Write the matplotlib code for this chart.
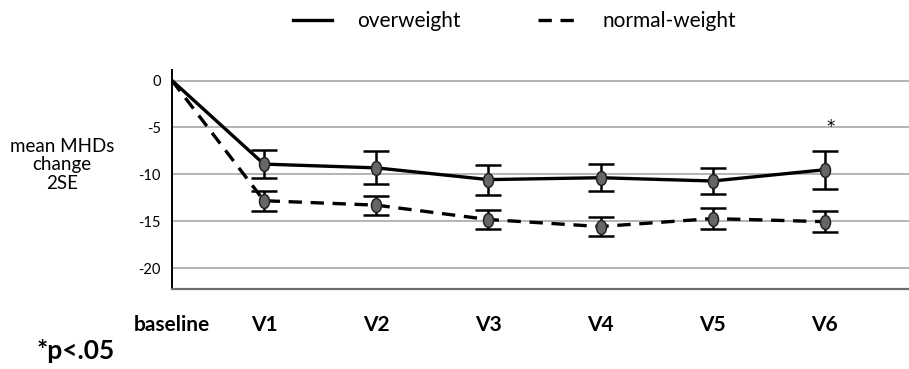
import numpy as np
import matplotlib
matplotlib.use("Agg")
import matplotlib.pyplot as plt
from matplotlib.path import Path
from matplotlib.transforms import Affine2D

plt.rcParams['font.family'] = ['Lato', 'DejaVu Sans']

visits = ['baseline', 'V1', 'V2', 'V3', 'V4', 'V5', 'V6']
over_mean = [0, -8.9, -9.3, -10.55, -10.35, -10.7, -9.5]
over_se2 = [0, 1.47, 1.77, 1.6, 1.45, 1.43, 2.0]
normal_mean = [0, -12.8, -13.27, -14.8, -15.55, -14.7, -15.03]
normal_se2 = [0, 1.05, 1.0, 1.05, 1.03, 1.1, 1.12]
sig_visit = 'V6'

# baseline sits closer to V1 than the other visits are to each other
xpos = np.array([0.18, 1, 2, 3, 4, 5, 6])

fig = plt.figure(figsize=(9.09, 3.69), dpi=100)
ax = fig.add_axes([0.1892, 0.2168, 0.8108, 0.5935])

# tall grey ellipse marker
ell = Path.unit_circle().transformed(Affine2D().scale(0.72, 1.0))

for mean, se, ls, lab in [(over_mean, over_se2, '-', 'overweight'),
                          (normal_mean, normal_se2, (0, (4, 2.6)), 'normal-weight')]:
    ax.plot(xpos, mean, color='black', lw=2.4, ls=ls, label=lab, zorder=3)
    ax.errorbar(xpos[1:], mean[1:], yerr=se[1:], fmt='none', ecolor='black',
                elinewidth=1.8, capsize=9.5, capthick=1.8, zorder=4)
    ax.plot(xpos[1:], mean[1:], ls='none', marker=ell, ms=10,
            mfc='#666666', mec='#222222', mew=1.1, zorder=5)

i = visits.index(sig_visit)
ax.text(xpos[i] + 0.05, over_mean[i] + over_se2[i] + 2.6, '*', ha='center',
        va='center', fontsize=12, family='DejaVu Sans')

ax.set_xlim(0.18, 6.75)
ax.set_ylim(-22.2, 1.12)
ax.set_yticks([0, -5, -10, -15, -20])
ax.set_yticklabels(['0', '-5', '-10', '-15', '-20'], fontsize=10.5)
ax.yaxis.grid(True, color='#b4b4b4', lw=1.4)
ax.set_axisbelow(True)
ax.tick_params(axis='y', length=0, pad=8)
ax.set_xticks(xpos)
ax.set_xticklabels(visits, fontsize=15, fontweight='bold')
ax.tick_params(axis='x', length=0, pad=19)
for s in ['top', 'right']:
    ax.spines[s].set_visible(False)
ax.spines['left'].set_color('black')
ax.spines['left'].set_linewidth(1.4)
ax.spines['bottom'].set_color('#6e6e6e')
ax.spines['bottom'].set_linewidth(1.6)

fig.text(0.068, 0.553, 'mean MHDs\nchange\n2SE', ha='center', va='center',
         fontsize=13.5, linespacing=1.12)
fig.text(0.04, 0.05, '*p<.05', ha='left', va='center', fontsize=19,
         fontweight='bold')

fig.legend(loc='center', bbox_to_anchor=(0.566, 0.943), ncol=2, frameon=False,
           fontsize=15, handlelength=1.9, columnspacing=3.7, handletextpad=1.2)

fig.savefig('out.png', dpi=100)
